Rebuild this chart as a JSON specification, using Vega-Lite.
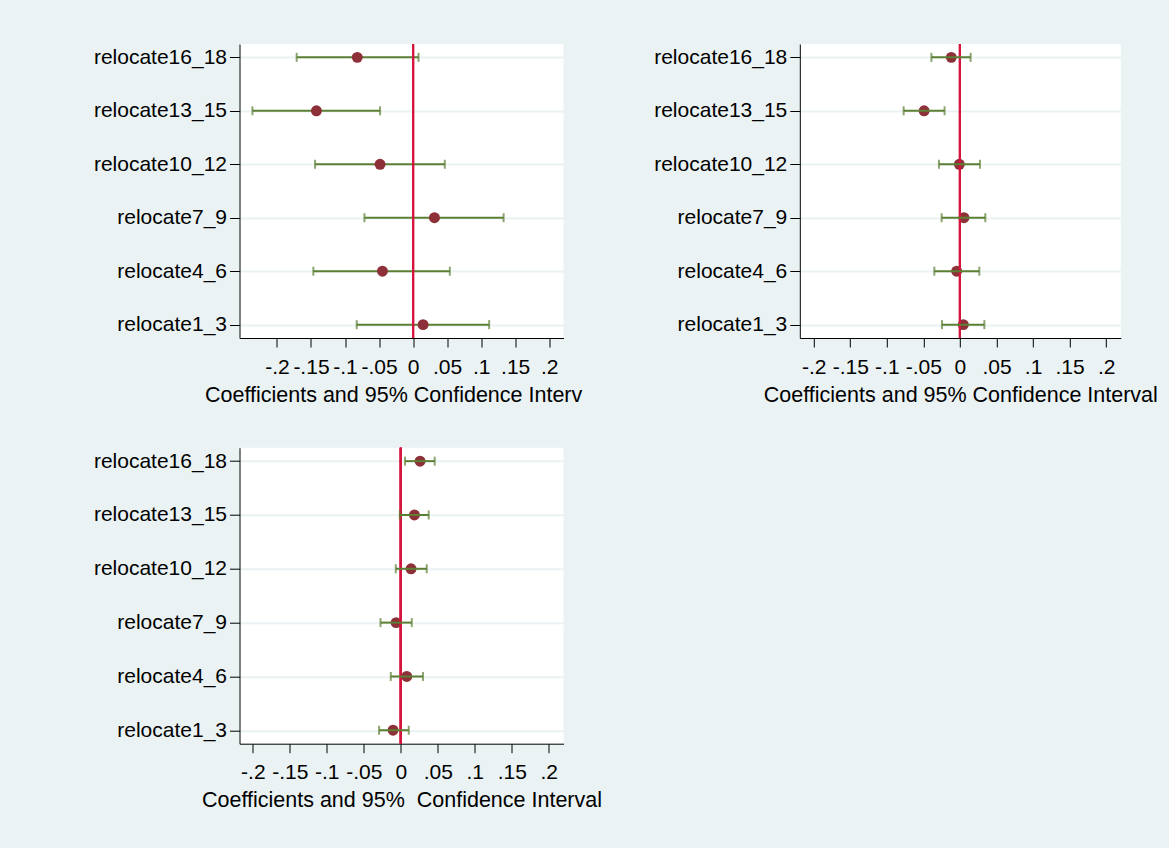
{
  "$schema": "https://vega.github.io/schema/vega-lite/v6.json",
  "background": "#EAF2F3",
  "padding": {"left": 92.5, "top": 43, "right": 12, "bottom": 37},
  "datasets": {
    "coefs": [
      {"panel": 1, "var": "relocate16_18", "b": -0.082, "lo": -0.171, "hi": 0.008},
      {"panel": 1, "var": "relocate13_15", "b": -0.142, "lo": -0.236, "hi": -0.0485},
      {"panel": 1, "var": "relocate10_12", "b": -0.0485, "lo": -0.144, "hi": 0.0466},
      {"panel": 1, "var": "relocate7_9", "b": 0.0314, "lo": -0.0715, "hi": 0.133},
      {"panel": 1, "var": "relocate4_6", "b": -0.045, "lo": -0.1465, "hi": 0.054},
      {"panel": 1, "var": "relocate1_3", "b": 0.0147, "lo": -0.0828, "hi": 0.1118},
      {"panel": 2, "var": "relocate16_18", "b": -0.0118, "lo": -0.039, "hi": 0.0146},
      {"panel": 2, "var": "relocate13_15", "b": -0.049, "lo": -0.077, "hi": -0.021},
      {"panel": 2, "var": "relocate10_12", "b": -0.0008, "lo": -0.0287, "hi": 0.0274},
      {"panel": 2, "var": "relocate7_9", "b": 0.0055, "lo": -0.025, "hi": 0.0347},
      {"panel": 2, "var": "relocate4_6", "b": -0.0045, "lo": -0.035, "hi": 0.0265},
      {"panel": 2, "var": "relocate1_3", "b": 0.0046, "lo": -0.0246, "hi": 0.0334},
      {"panel": 3, "var": "relocate16_18", "b": 0.0261, "lo": 0.0058, "hi": 0.0459},
      {"panel": 3, "var": "relocate13_15", "b": 0.0185, "lo": -0.0013, "hi": 0.0378},
      {"panel": 3, "var": "relocate10_12", "b": 0.0139, "lo": -0.0067, "hi": 0.0351},
      {"panel": 3, "var": "relocate7_9", "b": -0.0063, "lo": -0.0274, "hi": 0.0149},
      {"panel": 3, "var": "relocate4_6", "b": 0.0081, "lo": -0.0135, "hi": 0.0301},
      {"panel": 3, "var": "relocate1_3", "b": -0.0104, "lo": -0.0293, "hi": 0.0108}
    ]
  },
  "columns": 2,
  "spacing": {"row": 109.7, "column": 236.3},
  "bounds": "flush",
  "concat": [
    {
      "width": 324,
      "height": 294,
      "data": {"name": "coefs"},
      "transform": [{"filter": "datum.panel == 1"}],
      "encoding": {
        "y": {
          "field": "var",
          "type": "nominal",
          "sort": ["relocate16_18", "relocate13_15", "relocate10_12", "relocate7_9", "relocate4_6", "relocate1_3"],
          "scale": {"type": "point", "padding": 0.25},
          "axis": {"title": null}
        }
      },
      "layer": [
        {
          "mark": {"type": "rule", "color": "#5B7F33", "strokeWidth": 2},
          "encoding": {
            "x": {
              "field": "lo",
              "type": "quantitative",
              "scale": {"domain": [-0.255, 0.221], "nice": false, "zero": false},
              "axis": {
                "values": [-0.2, -0.15, -0.1, -0.05, 0, 0.05, 0.1, 0.15, 0.2],
                "labelExpr": "(datum.value < 0 ? '-' : '') + replace(format(abs(datum.value), '.2~f'), '0.', '.')",
                "title": "Coefficients and 95% Confidence Interv",
                "titleAlign": "left",
                "titleX": -35
              }
            },
            "x2": {"field": "hi"}
          }
        },
        {
          "mark": {"type": "tick", "color": "#5B7F33", "thickness": 2, "size": 9},
          "encoding": {"x": {"field": "lo", "type": "quantitative"}}
        },
        {
          "mark": {"type": "tick", "color": "#5B7F33", "thickness": 2, "size": 9},
          "encoding": {"x": {"field": "hi", "type": "quantitative"}}
        },
        {
          "mark": {"type": "rule", "color": "#D4163E", "strokeWidth": 2},
          "encoding": {"x": {"datum": 0}, "y": null}
        },
        {
          "mark": {"type": "point", "shape": "circle", "filled": true, "size": 120, "color": "#8E3038", "opacity": 1},
          "encoding": {"x": {"field": "b", "type": "quantitative"}}
        }
      ]
    },
    {
      "width": 321,
      "height": 294,
      "data": {"name": "coefs"},
      "transform": [{"filter": "datum.panel == 2"}],
      "encoding": {
        "y": {
          "field": "var",
          "type": "nominal",
          "sort": ["relocate16_18", "relocate13_15", "relocate10_12", "relocate7_9", "relocate4_6", "relocate1_3"],
          "scale": {"type": "point", "padding": 0.25},
          "axis": {"title": null}
        }
      },
      "layer": [
        {
          "mark": {"type": "point", "shape": "circle", "filled": true, "size": 120, "color": "#8E3038", "opacity": 1},
          "encoding": {
            "x": {
              "field": "b",
              "type": "quantitative",
              "scale": {"domain": [-0.219, 0.22], "nice": false, "zero": false},
              "axis": {
                "values": [-0.2, -0.15, -0.1, -0.05, 0, 0.05, 0.1, 0.15, 0.2],
                "labelExpr": "(datum.value < 0 ? '-' : '') + replace(format(abs(datum.value), '.2~f'), '0.', '.')",
                "title": "Coefficients and 95% Confidence Interval"
              }
            }
          }
        },
        {
          "mark": {"type": "rule", "color": "#D4163E", "strokeWidth": 2},
          "encoding": {"x": {"datum": 0}, "y": null}
        },
        {
          "mark": {"type": "rule", "color": "#5B7F33", "strokeWidth": 2},
          "encoding": {"x": {"field": "lo", "type": "quantitative"}, "x2": {"field": "hi"}}
        },
        {
          "mark": {"type": "tick", "color": "#5B7F33", "thickness": 2, "size": 9},
          "encoding": {"x": {"field": "lo", "type": "quantitative"}}
        },
        {
          "mark": {"type": "tick", "color": "#5B7F33", "thickness": 2, "size": 9},
          "encoding": {"x": {"field": "hi", "type": "quantitative"}}
        }
      ]
    },
    {
      "width": 324,
      "height": 296,
      "data": {"name": "coefs"},
      "transform": [{"filter": "datum.panel == 3"}],
      "encoding": {
        "y": {
          "field": "var",
          "type": "nominal",
          "sort": ["relocate16_18", "relocate13_15", "relocate10_12", "relocate7_9", "relocate4_6", "relocate1_3"],
          "scale": {"type": "point", "padding": 0.25},
          "axis": {"title": null}
        }
      },
      "layer": [
        {
          "mark": {"type": "point", "shape": "circle", "filled": true, "size": 120, "color": "#8E3038", "opacity": 1},
          "encoding": {
            "x": {
              "field": "b",
              "type": "quantitative",
              "scale": {"domain": [-0.218, 0.22], "nice": false, "zero": false},
              "axis": {
                "values": [-0.2, -0.15, -0.1, -0.05, 0, 0.05, 0.1, 0.15, 0.2],
                "labelExpr": "(datum.value < 0 ? '-' : '') + replace(format(abs(datum.value), '.2~f'), '0.', '.')",
                "title": "Coefficients and 95%\u00a0 Confidence Interval"
              }
            }
          }
        },
        {
          "mark": {"type": "rule", "color": "#D4163E", "strokeWidth": 2},
          "encoding": {"x": {"datum": 0}, "y": null}
        },
        {
          "mark": {"type": "rule", "color": "#5B7F33", "strokeWidth": 2},
          "encoding": {"x": {"field": "lo", "type": "quantitative"}, "x2": {"field": "hi"}}
        },
        {
          "mark": {"type": "tick", "color": "#5B7F33", "thickness": 2, "size": 9},
          "encoding": {"x": {"field": "lo", "type": "quantitative"}}
        },
        {
          "mark": {"type": "tick", "color": "#5B7F33", "thickness": 2, "size": 9},
          "encoding": {"x": {"field": "hi", "type": "quantitative"}}
        }
      ]
    }
  ],
  "config": {
    "view": {"fill": "white", "stroke": null},
    "font": "Liberation Sans",
    "axis": {
      "labelFont": "Liberation Sans",
      "titleFont": "Liberation Sans",
      "labelColor": "#000000",
      "titleColor": "#000000",
      "domainColor": "#000000",
      "tickColor": "#000000",
      "domainWidth": 1,
      "tickWidth": 1,
      "titleFontSize": 21.5,
      "titleFontWeight": "normal"
    },
    "axisY": {
      "grid": true,
      "gridColor": "#EAF2F3",
      "gridWidth": 2,
      "tickSize": 10,
      "labelPadding": 3,
      "labelFontSize": 21
    },
    "axisX": {
      "grid": false,
      "tickSize": 9,
      "labelFontSize": 21,
      "labelPadding": 9,
      "titlePadding": 7,
      "labelOverlap": false,
      "labelFlush": false,
      "labelBound": false
    }
  }
}
